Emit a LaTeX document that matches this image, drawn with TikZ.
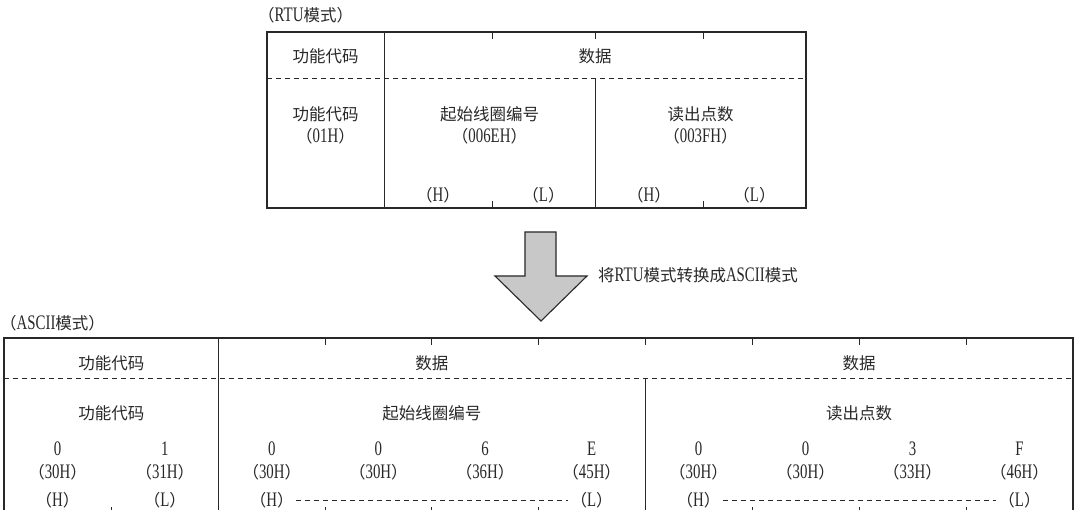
\documentclass[tikz,border=0pt]{standalone}
\usepackage{fontspec}
\setmainfont{Liberation Serif}[FakeStretch=0.72,Scale=1.25]
\newfontfamily\cjk{Noto Sans CJK SC}
\newcommand\CJ[1]{{\cjk #1}}
\newcommand\LPa{{\cjk （}}
\newcommand\RPa{{\cjk ）}}
\definecolor{ink}{RGB}{40,40,40}
\definecolor{arrowgray}{RGB}{200,200,200}
\begin{document}
\begin{tikzpicture}[x=1pt,y=-1pt,
  txt/.style={inner sep=0pt, font=\fontsize{16.5}{19}\selectfont, text=ink},
  outerline/.style={line width=1.6pt, draw=ink},
  innerline/.style={line width=0.8pt, draw=ink},
  dline/.style={line width=0.8pt, draw=ink, dash pattern=on 5pt off 4pt}]
\useasboundingbox (0,0) rectangle (1075,510);
\clip (0,0) rectangle (1075,510);

% ---------------- top table (RTU) ----------------
\node[txt, anchor=west] (rtutitle) at (258,15) {\LPa RTU\CJ{模式}\RPa};
\draw[outerline] (267,32) rectangle (806,208);
\draw[dline] (267,78) -- (806,78);
\draw[innerline] (384,32) -- (384,208);
\draw[innerline] (595,78) -- (595,208);
\foreach \x in {492,595,703} \draw[innerline] (\x,32) -- (\x,39);
\foreach \x in {492,703} \draw[innerline] (\x,201) -- (\x,208);

\node[txt] (rfch) at (325.5,56) {\CJ{功能代码}};
\node[txt] (rdatah) at (595,56) {\CJ{数据}};
\node[txt] (rfc) at (325.5,114) {\CJ{功能代码}};
\node[txt] (rfcv) at (325.5,136) {\LPa 01H\RPa};
\node[txt] (rstart) at (489.5,114) {\CJ{起始线圈编号}};
\node[txt] (rstartv) at (489.5,136) {\LPa 006EH\RPa};
\node[txt] (rread) at (700.5,114) {\CJ{读出点数}};
\node[txt] (rreadv) at (700.5,136) {\LPa 003FH\RPa};
\node[txt] (rh1) at (438,195) {\LPa H\RPa};
\node[txt] (rl1) at (543.5,195) {\LPa L\RPa};
\node[txt] (rh2) at (649,195) {\LPa H\RPa};
\node[txt] (rl2) at (754.5,195) {\LPa L\RPa};

% ---------------- arrow ----------------
\draw[line width=1.1pt, draw=ink, fill=arrowgray, line join=miter]
  (525,232) -- (556,232) -- (556,276) -- (587,276) -- (541,321)
  -- (495,276) -- (525,276) -- cycle;
\node[txt, anchor=west] (conv) at (598,275) {\CJ{将}RTU\CJ{模式转换成}ASCII\CJ{模式}};

% ---------------- bottom table (ASCII) ----------------
\node[txt, anchor=west] (asctitle) at (0,323) {\LPa ASCII\CJ{模式}\RPa};
\draw[outerline] (4,338) rectangle (1073,514);
\draw[dline] (4,378) -- (1073,378);
\draw[innerline] (218.5,338) -- (218.5,514);
\draw[innerline] (645,378) -- (645,514);
\foreach \x in {325.1,431.75,538.4,645,752,859,966} \draw[innerline] (\x,338) -- (\x,345);
\foreach \x in {111.25,325.1,431.75,538.4,752,859,966} \draw[innerline] (\x,507) -- (\x,514);

\node[txt] (afch) at (111.25,363) {\CJ{功能代码}};
\node[txt] (adata1) at (431.75,363) {\CJ{数据}};
\node[txt] (adata2) at (859,363) {\CJ{数据}};
\node[txt] (afc) at (111.25,413) {\CJ{功能代码}};
\node[txt] (astart) at (431.75,413) {\CJ{起始线圈编号}};
\node[txt] (aread) at (859,413) {\CJ{读出点数}};

\foreach \x/\d/\v [count=\i] in {57.6/0/30H, 164.9/1/31H,
    271.8/0/30H, 378.4/0/30H, 485.1/6/36H, 591.7/E/45H,
    698.5/0/30H, 805.5/0/30H, 912.5/3/33H, 1019.5/F/46H} {
  \node[txt] (ad\i) at (\x,449) {\d};
  \node[txt] (av\i) at (\x,472) {\LPa\v\RPa};
}

\node[txt] (ah1) at (57.6,500) {\LPa H\RPa};
\node[txt] (al1) at (164.9,500) {\LPa L\RPa};
\node[txt] (ah2) at (271.8,500) {\LPa H\RPa};
\node[txt] (al2) at (591.7,500) {\LPa L\RPa};
\node[txt] (ah3) at (698.5,500) {\LPa H\RPa};
\node[txt] (al3) at (1019.5,500) {\LPa L\RPa};
\draw[dline, shorten <=2pt, shorten >=2pt] (ah2.east) -- (al2.west);
\draw[dline, shorten <=2pt, shorten >=2pt] (ah3.east) -- (al3.west);
\end{tikzpicture}
\end{document}
